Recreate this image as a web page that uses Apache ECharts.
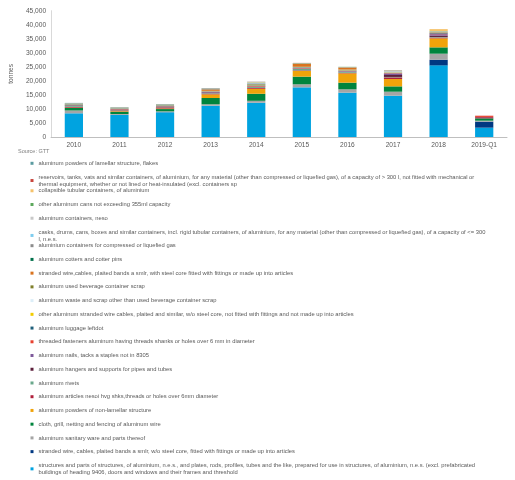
<!DOCTYPE html>
<html>
<head>
<meta charset="utf-8">
<script src="https://cdn.jsdelivr.net/npm/echarts@6/dist/echarts.min.js"></script>
<style>
html,body{margin:0;padding:0;background:#fff;}
#chart{width:515px;height:480px;}
</style>
</head>
<body>
<div id="chart"></div>
<script>
// ---- Data (tonnes) ----
const categories = ['2010','2011','2012','2013','2014','2015','2016','2017','2018','2019-Q1'];
const yTicks = [0,5000,10000,15000,20000,25000,30000,35000,40000,45000];

// series listed bottom of stack first
const structures        = [8450, 7850, 8800, 11150, 12200, 17700, 15800, 14720, 25520, 3320];
const strandedNoSteel   = [0, 40, 50, 0, 0, 0, 0, 0, 2020, 2140];
const sanitaryWare      = [1000, 300, 300, 500, 700, 1070, 1190, 1420, 2140, 356];
const clothGrill        = [900, 800, 800, 2250, 2500, 2730, 2370, 1900, 2260, 830];
const powdersNonLam     = [100, 200, 200, 1300, 1780, 2020, 3320, 2610, 3200, 0];
const articlesNesoi     = [300, 300, 400, 300, 300, 200, 200, 600, 300, 400];
const rivets            = [300, 150, 100, 200, 320, 550, 360, 150, 200, 0];
const hangers           = [100, 100, 50, 200, 100, 100, 100, 700, 500, 50];
const nails             = [50, 50, 100, 150, 100, 100, 150, 500, 500, 50];
const threadedFast      = [100, 150, 150, 100, 200, 150, 100, 150, 200, 400];
const luggage           = [150, 100, 150, 100, 200, 200, 150, 150, 200, 0];
const otherStranded     = [50, 50, 50, 50, 100, 60, 100, 100, 50, 0];
const wasteScrap        = [50, 50, 50, 50, 100, 50, 100, 100, 50, 0];
const ubcScrap          = [100, 50, 100, 100, 100, 100, 100, 50, 50, 0];
const strandedSteel     = [0, 0, 0, 500, 100, 1070, 710, 0, 100, 0];
const cotters           = [50, 50, 50, 50, 100, 0, 0, 50, 50, 0];
const compressedGas     = [100, 100, 100, 200, 200, 100, 100, 100, 200, 0];
const casks             = [50, 50, 50, 50, 100, 0, 0, 50, 0, 0];
const containersNeso    = [50, 50, 50, 50, 200, 50, 50, 300, 100, 0];
const cans355           = [100, 100, 100, 50, 100, 100, 100, 50, 100, 0];
const collapsible       = [0, 0, 0, 0, 100, 0, 0, 50, 700, 0];
const reservoirs        = [50, 50, 50, 50, 50, 50, 0, 50, 0, 50];
const powdersLamellar   = [100, 50, 50, 50, 50, 0, 0, 50, 0, 0];

const seriesNames = [
  'structures and parts of structures, of aluminium, n.e.s., and plates, rods, profiles, tubes and the like, prepared for use in structures, of aluminium, n.e.s. (excl. prefabricated\nbuildings of heading 9406, doors and windows and their frames and threshold',
  'stranded wire, cables, plaited bands a smlr, w/o steel core, fitted with fittings or made up into articles',
  'aluminum sanitary ware and parts thereof',
  'cloth, grill, netting and fencing of aluminum wire',
  'aluminum powders of non-lamellar structure',
  'aluminum articles nesoi hvg shks,threads or holes over 6mm diameter',
  'aluminum rivets',
  'aluminum hangers and supports for pipes and tubes',
  'aluminum nails, tacks a staples not in 8305',
  'threaded fasteners aluminum having threads shanks or holes over 6 mm in diameter',
  'aluminum luggage leftdot',
  'other aluminum stranded wire cables, plaited and similar, w/o steel core, not fitted with fittings and not made up into articles',
  'aluminum waste and scrap other than used beverage container scrap',
  'aluminum used beverage container scrap',
  'stranded wire,cables, plaited bands a smlr, with steel core fitted with fittings or made up into articles',
  'aluminum cotters and cotter pins',
  'aluminium containers for compressed or liquefied gas',
  'casks, drums, cans, boxes and similar containers, incl. rigid tubular containers, of aluminium, for any material (other than compressed or liquefied gas), of a capacity of <= 300\nl, n.e.s.',
  'aluminum containers, neso',
  'other aluminum cans not exceeding 355ml capacity',
  'collapsible tubular containers, of aluminium',
  'reservoirs, tanks, vats and similar containers, of aluminium, for any material (other than compressed or liquefied gas), of a capacity of > 300 l, not fitted with mechanical or\nthermal equipment, whether or not lined or heat-insulated (excl. containers sp',
  'aluminum powders of lamellar structure, flakes'
];
const seriesData = [structures, strandedNoSteel, sanitaryWare, clothGrill, powdersNonLam, articlesNesoi,
  rivets, hangers, nails, threadedFast, luggage, otherStranded, wasteScrap, ubcScrap, strandedSteel,
  cotters, compressedGas, casks, containersNeso, cans355, collapsible, reservoirs, powdersLamellar];
const seriesColors = ['#00A3E0','#003882','#A5A5A5','#00843D','#F0A30A','#B0203C',
  '#6AA88C','#5C1F3B','#7E5A9B','#E8412F','#1F5F7A','#F2CC00','#DCEEF8','#7F7F2A','#D9731E',
  '#00704A','#8C8C8C','#7FCDEF','#C8C8C8','#5CA85C','#F5C26B','#C9463D','#5B9BA0'];

// ---- Chart ----
const chart = echarts.init(document.getElementById('chart'));
const font = 'Liberation Sans, Arial, sans-serif';
const txt = '#595959';

const series = seriesNames.map((n, i) => ({
  name: n, type: 'bar', stack: 'total', data: seriesData[i],
  barWidth: '40%', itemStyle: {color: seriesColors[i]}
}));

// one legend per entry, listed top of stack first
const legends = [];
const n = seriesNames.length;
for (let k = 0; k < n; k++) {
  const name = seriesNames[n - 1 - k];
  const cy = 163.3 + 13.73 * k;
  legends.push({
    data: [name], left: 30.5, top: cy - 3.5,
    orient: 'vertical', padding: 0, itemWidth: 3, itemHeight: 3, icon: 'rect',
    selectedMode: false,
    textStyle: {fontSize: 5.8, color: txt, lineHeight: 7, fontFamily: font}
  });
}

chart.setOption({
  backgroundColor: '#fff',
  animation: false,
  grid: {left: 43.7, right: 8, top: 10.7, bottom: 343, containLabel: false},
  legend: legends,
  xAxis: {
    type: 'category', data: categories,
    axisLine: {lineStyle: {color: '#BFBFBF'}},
    axisTick: {show: false},
    axisLabel: {fontSize: 6.6, color: txt, fontFamily: font, margin: 5}
  },
  yAxis: {
    type: 'value', min: yTicks[0], max: yTicks[yTicks.length - 1], interval: yTicks[1] - yTicks[0],
    name: 'tonnes', nameLocation: 'middle', nameRotate: 90, nameGap: 25,
    nameTextStyle: {fontSize: 6.6, color: txt, fontFamily: font},
    axisLine: {show: true, lineStyle: {color: '#D9D9D9'}},
    axisTick: {show: false},
    splitLine: {show: false},
    axisLabel: {fontSize: 6.6, color: txt, fontFamily: font, margin: 5}
  },
  graphic: [{
    type: 'text', left: 18, top: 148.5,
    style: {text: 'Source: GTT', fontSize: 5.5, fill: '#7F7F7F', fontFamily: font}
  }],
  series: series
});
</script>
</body>
</html>
